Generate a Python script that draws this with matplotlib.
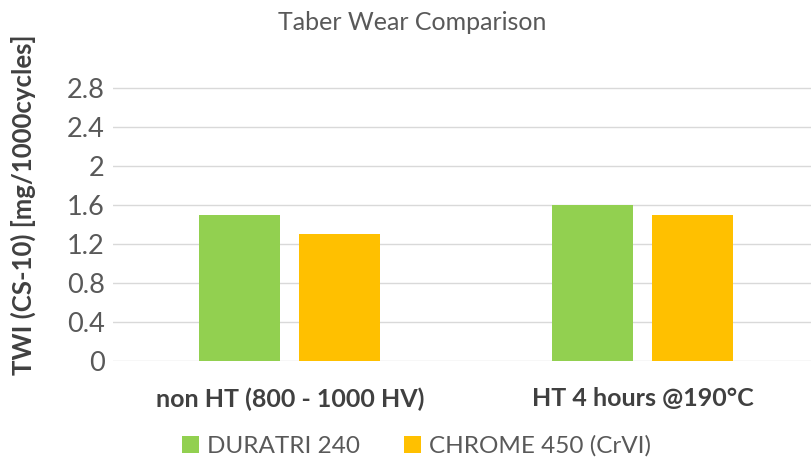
import matplotlib.pyplot as plt
import numpy as np

categories = ["non HT (800 - 1000 HV)", "HT 4 hours @190°C"]
series_names = ["DURATRI 240", "CHROME 450 (CrVI)"]
duratri = [1.5, 1.6]
chrome = [1.3, 1.5]
y_ticks = [0, 0.4, 0.8, 1.2, 1.6, 2, 2.4, 2.8]
y_tick_labels = ["0", "0.4", "0.8", "1.2", "1.6", "2", "2.4", "2.8"]

GREEN = "#92D050"
YELLOW = "#FFC000"
TEXT = "#595959"
GRID = "#D9D9D9"

plt.rcParams["font.family"] = ["Lato", "DejaVu Sans"]

fig = plt.figure(figsize=(8.12, 4.62), dpi=100)
fig.patch.set_facecolor("white")
ax = fig.add_axes([0.139, 0.2186, 0.861, 0.675])

x = np.arange(len(categories))
width = 0.23
ax.bar(x - 0.143, duratri, width, color=GREEN, label=series_names[0], zorder=3)
ax.bar(x + 0.140, chrome, width, color=YELLOW, label=series_names[1], zorder=3)

ax.set_xlim(-0.501, 1.479)
ax.set_ylim(0, 3.2)
ax.set_yticks(y_ticks)
ax.set_yticklabels(y_tick_labels, fontsize=19.5, color=TEXT)
ax.set_xticks(x)
ax.set_xticklabels(categories, fontsize=18, color="#404040", weight="bold")
ax.tick_params(axis="both", length=0)
ax.tick_params(axis="y", pad=6)
ax.tick_params(axis="x", pad=19)
for val in y_ticks:
    ax.axhline(val, color=GRID, linewidth=1, zorder=1)
for s in ax.spines.values():
    s.set_visible(False)

ax.set_ylabel("TWI (CS-10) [mg/1000cycles]", fontsize=18.5, weight="bold", color="#404040")
ax.yaxis.set_label_coords(-0.11, 0.5)
fig.text(0.508, 0.952, "Taber Wear Comparison", ha="center", va="center", fontsize=18, color=TEXT)

leg = fig.legend(loc="center", bbox_to_anchor=(0.513, 0.035), ncol=2, frameon=False,
                 fontsize=17.5, handlelength=0.7, handleheight=0.7, handletextpad=0.35, columnspacing=1.8)
for t in leg.get_texts():
    t.set_color(TEXT)

fig.savefig("out.png", dpi=100, facecolor="white")
